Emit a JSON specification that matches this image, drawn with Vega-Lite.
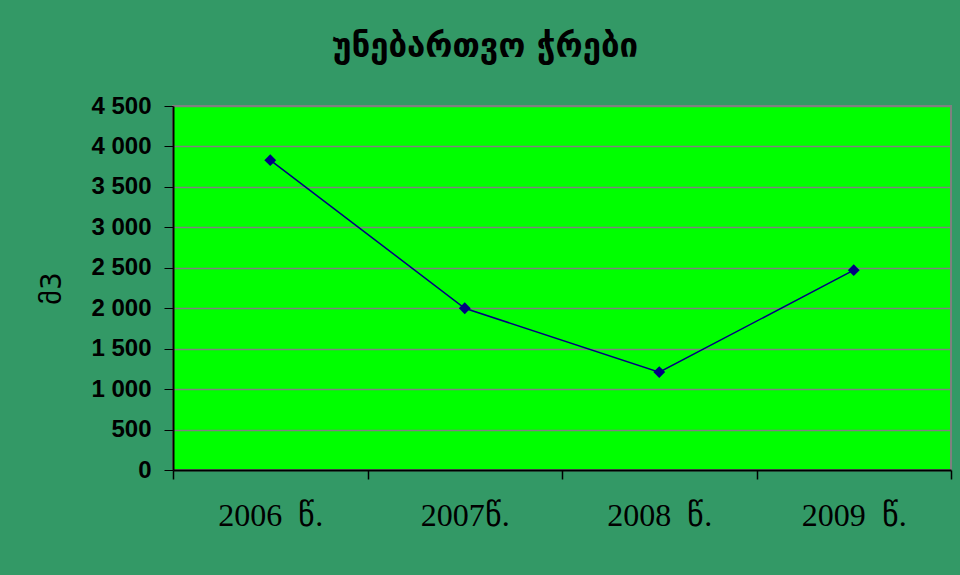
{
  "$schema": "https://vega.github.io/schema/vega-lite/v6.json",
  "autosize": {"type": "none"},
  "width": 778,
  "height": 364,
  "padding": {"left": 173, "top": 106, "right": 9, "bottom": 105},
  "background": "#339966",
  "title": {
    "text": "უნებართვო ჭრები",
    "font": "DejaVu Sans",
    "fontSize": 33,
    "fontWeight": "bold",
    "color": "#000000",
    "anchor": "middle",
    "dx": -77,
    "offset": 30
  },
  "data": {
    "values": [
      {"year": "2006 \u00a0წ.", "value": 3830},
      {"year": "2007წ.", "value": 2000},
      {"year": "2008 \u00a0წ.", "value": 1210},
      {"year": "2009 \u00a0წ.", "value": 2470}
    ]
  },
  "mark": {
    "type": "line",
    "color": "#000080",
    "strokeWidth": 1.5,
    "point": {"shape": "diamond", "size": 140, "filled": true, "color": "#000080"}
  },
  "encoding": {
    "x": {
      "field": "year",
      "type": "ordinal",
      "sort": null,
      "scale": {"type": "band", "paddingInner": 0, "paddingOuter": 0},
      "axis": {
        "title": null,
        "labelAngle": 0,
        "tickBand": "extent",
        "labelFont": "Liberation Serif",
        "labelFontSize": 32,
        "labelColor": "#000000",
        "labelPadding": 21,
        "tickSize": 9,
        "tickColor": "#000000",
        "domainColor": "#000000",
        "domainWidth": 2,
        "tickWidth": 1.5,
        "grid": false
      }
    },
    "y": {
      "field": "value",
      "type": "quantitative",
      "scale": {"domain": [0, 4500], "nice": false},
      "axis": {
        "title": "მ3",
        "titleFont": "DejaVu Sans",
        "titleFontSize": 28,
        "titleFontWeight": "normal",
        "titleColor": "#000000",
        "titlePadding": 24,
        "values": [0, 500, 1000, 1500, 2000, 2500, 3000, 3500, 4000, 4500],
        "labelExpr": "replace(format(datum.value, ','), ',', ' ')",
        "labelFont": "Liberation Sans",
        "labelFontSize": 24,
        "labelFontWeight": "bold",
        "labelColor": "#000000",
        "labelPadding": 13,
        "tickSize": 9,
        "tickColor": "#000000",
        "domainColor": "#000000",
        "domainWidth": 2,
        "grid": true,
        "gridColor": "#808080",
        "gridWidth": 1.5
      }
    }
  },
  "config": {
    "view": {"fill": "#00FF00", "stroke": "#808080", "strokeWidth": 2}
  }
}
